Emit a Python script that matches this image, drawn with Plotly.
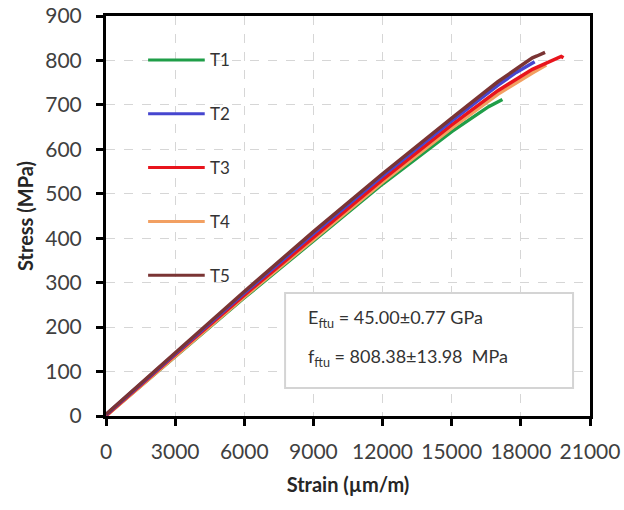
import plotly.graph_objects as go

# Stress-strain curves for five tensile coupons
names = ["T1", "T2", "T3", "T4", "T5"]
colors = ["#1f9e48", "#4646cf", "#e8141c", "#f2a062", "#7a3434"]

t1_strain = [0, 3000, 6000, 9000, 12000, 15000, 16000, 16600, 17200]
t1_stress = [1, 134, 266, 394, 522, 640, 676, 696, 712]

t2_strain = [0, 3000, 6000, 9000, 12000, 15000, 17000, 17800, 18200, 18600]
t2_stress = [3, 141, 277, 410, 540, 664, 744, 773, 785, 797]

t3_strain = [0, 3000, 6000, 9000, 12000, 15000, 17000, 18500, 19200, 19500, 19750, 19850]
t3_stress = [1, 138, 272, 403, 532, 655, 732, 780, 797, 803, 809, 806]

t4_strain = [0, 3000, 6000, 9000, 12000, 15000, 17000, 18500, 19100]
t4_stress = [0, 135, 268, 397, 526, 648, 724, 772, 790]

t5_strain = [0, 3000, 6000, 9000, 12000, 15000, 17000, 18000, 18500, 18700, 19050]
t5_stress = [4, 143, 280, 415, 545, 670, 752, 788, 806, 810, 818]

strains = [t1_strain, t2_strain, t3_strain, t4_strain, t5_strain]
stresses = [t1_stress, t2_stress, t3_stress, t4_stress, t5_stress]

x_ticks = [0, 3000, 6000, 9000, 12000, 15000, 18000, 21000]
y_ticks = [0, 100, 200, 300, 400, 500, 600, 700, 800, 900]

stats_lines = [
    "E<sub>ftu</sub> = 45.00±0.77 GPa",
    "f<sub>ftu</sub> = 808.38±13.98  MPa",
]

FONT = "Lato"
fig = go.Figure()

draw_order = [0, 3, 2, 1, 4]
for i in draw_order:
    fig.add_trace(go.Scatter(
        x=strains[i], y=stresses[i], mode="lines", name=names[i],
        line=dict(color=colors[i], width=3.5), showlegend=False,
    ))

# Hand-drawn legend: long line samples stacked down the left of the plot
leg_x0, leg_x1, leg_lab = 0.087, 0.204, 0.211
leg_top, leg_step = 0.89, 0.1345
shapes = []
annotations = []
for i, nm in enumerate(names):
    yy = leg_top - i * leg_step
    shapes.append(dict(type="line", xref="paper", yref="paper",
                       x0=leg_x0, x1=leg_x1, y0=yy, y1=yy,
                       line=dict(color=colors[i], width=3)))
    annotations.append(dict(xref="paper", yref="paper", x=leg_lab, y=yy,
                            text=nm, showarrow=False, xanchor="left",
                            yanchor="middle",
                            font=dict(family=FONT, size=17, color="#333333")))

# Stats box
shapes.append(dict(type="rect", xref="paper", yref="paper",
                   x0=0.370, x1=0.965, y0=0.07, y1=0.3075,
                   fillcolor="white", line=dict(color="#d4d4d4", width=2),
                   layer="above"))
for k, (txt, yy) in enumerate(zip(stats_lines, [0.245, 0.1475])):
    annotations.append(dict(xref="paper", yref="paper", x=0.413, y=yy,
                            text=txt, showarrow=False, xanchor="left",
                            yanchor="middle",
                            font=dict(family=FONT, size=18, color="#333333")))

axis_common = dict(
    showline=True, linecolor="black", linewidth=3, mirror=True,
    ticks="outside", ticklen=7, tickwidth=3, tickcolor="black",
    showgrid=True, gridcolor="#d6d6d6", gridwidth=1, griddash="dash",
    zeroline=False, automargin=False,
    tickfont=dict(family=FONT, size=21, color="#404040"),
)

fig.update_layout(
    width=624, height=510,
    margin=dict(l=106, r=34, t=16, b=94),
    paper_bgcolor="white", plot_bgcolor="white",
    shapes=shapes, annotations=annotations,
    xaxis=dict(range=[0, 21000], tickvals=x_ticks,
               ticktext=[str(v) for v in x_ticks], ticklabelstandoff=8,
               title=dict(text="<b>Strain (µm/m)</b>", standoff=16,
                          font=dict(family=FONT, size=20, color="#262626")),
               **axis_common),
    yaxis=dict(range=[0, 900], tickvals=y_ticks,
               ticktext=[str(v) for v in y_ticks], ticklabelstandoff=10,
               title=dict(text="<b>Stress (MPa)</b>", standoff=7,
                          font=dict(family=FONT, size=20, color="#262626")),
               **axis_common),
    showlegend=False,
)

fig.write_html("out.html")
